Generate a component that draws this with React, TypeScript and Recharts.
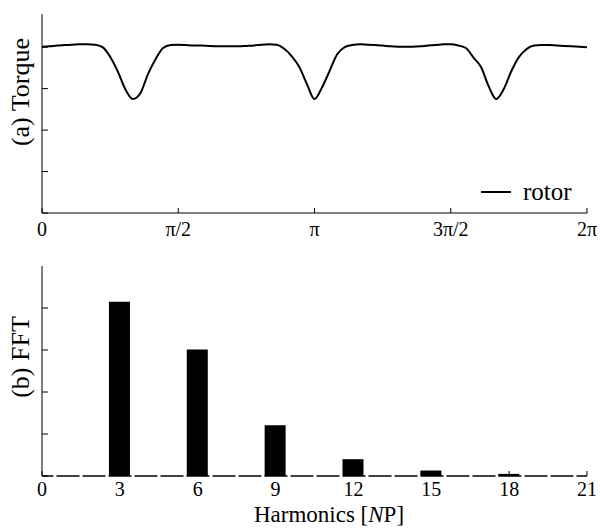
import React from 'react'
import { LineChart, Line, BarChart, Bar, XAxis, YAxis } from 'recharts'

// rotor angle in degrees, torque in arbitrary units
const angleDeg = [
  0, 5, 10, 15, 20, 25, 30, 35, 40, 45, 50, 55, 60, 65, 70, 75, 80, 85, 90,
  95, 100, 105, 110, 115, 120, 125, 130, 135, 140, 145, 150, 155, 160, 165, 170, 175, 180,
  185, 190, 195, 200, 205, 210, 215, 220, 225, 230, 235, 240, 245, 250, 255, 260, 265, 270,
  275, 280, 285, 290, 295, 300, 305, 310, 315, 320, 325, 330, 335, 340, 345, 350, 355, 360,
]
const rotorTorque = [
  4.01, 4.02, 4.04, 4.05, 4.06, 4.07, 4.07, 4.06, 4.0, 3.77, 3.42, 2.99, 2.75, 2.89, 3.35, 3.71, 3.98, 4.05, 4.06,
  4.05, 4.04, 4.04, 4.03, 4.02, 4.02, 4.02, 4.02, 4.03, 4.04, 4.06, 4.07, 4.06, 3.96, 3.78, 3.52, 3.11, 2.75,
  3.03, 3.43, 3.83, 4.0, 4.05, 4.07, 4.06, 4.05, 4.04, 4.02, 4.01, 4.01, 4.01, 4.02, 4.04, 4.05, 4.07, 4.07,
  4.04, 3.98, 3.75, 3.52, 3.06, 2.75, 2.99, 3.42, 3.76, 3.95, 4.04, 4.05, 4.05, 4.04, 4.03, 4.02, 4.01, 4.0,
]
const angleTicks = [0, 90, 180, 270, 360]
const angleTickLabels = ['0', 'π/2', 'π', '3π/2', '2π']

// FFT harmonics
const harmonics = [3, 6, 9, 12, 15, 18]
const fftAmplitude = [4.15, 3.01, 1.21, 0.4, 0.13, 0.05]
const harmonicTicks = [0, 3, 6, 9, 12, 15, 18, 21]

const levelTicks = [0, 1, 2, 3, 4]

const torqueData = angleDeg.map((a, i) => ({ a, rotor: rotorTorque[i] }))
const fftData = harmonics.map((h, i) => ({ h, v: fftAmplitude[i] }))

const FONT = 'Liberation Serif'

function makeXTick(dy: number, labels?: string[]) {
  return function XTick(props: any) {
    const { x, y, payload, index } = props
    const text = labels ? labels[index] : String(payload.value)
    return (
      <g>
        <line x1={x} x2={x} y1={y} y2={y - 5} stroke="#000" strokeWidth={1} />
        <text x={x} y={y + dy} textAnchor="middle" fontFamily={FONT} fontSize={20} fill="#000">
          {text}
        </text>
      </g>
    )
  }
}

function YTick(props: any) {
  const { x, y } = props
  return <line x1={x} x2={x + 6} y1={y} y2={y} stroke="#000" strokeWidth={1} />
}

function yLabel(text: string, cy: number) {
  return (
    <text
      x={29}
      y={cy}
      transform={`rotate(-90, 29, ${cy})`}
      textAnchor="middle"
      fontFamily={FONT}
      fontSize={26}
      fill="#000"
    >
      {text}
    </text>
  )
}

export default function App() {
  return (
    <div style={{ position: 'absolute', left: 0, top: 0, width: 600, height: 528, background: '#fff' }}>
      <LineChart width={600} height={250} data={torqueData} margin={{ top: 14, right: 13, left: 0, bottom: 0 }}>
        <XAxis
          dataKey="a"
          type="number"
          domain={[0, 360]}
          ticks={angleTicks}
          height={37}
          tickSize={0}
          tickMargin={0}
          tickLine={false}
          axisLine={{ stroke: '#000', strokeWidth: 1 }}
          tick={makeXTick(23, angleTickLabels)}
          interval={0}
        />
        <YAxis
          type="number"
          domain={[0, 4.8]}
          ticks={levelTicks}
          width={42}
          tickSize={0}
          tickMargin={0}
          tickLine={false}
          axisLine={{ stroke: '#000', strokeWidth: 1 }}
          tick={YTick}
          interval={0}
          label={{ content: () => yLabel('(a) Torque', 92) }}
        />
        <Line
          type="monotone"
          dataKey="rotor"
          stroke="#000"
          strokeWidth={2}
          dot={false}
          isAnimationActive={false}
        />
      </LineChart>
      <div
        style={{
          position: 'absolute',
          left: 481,
          top: 177,
          display: 'flex',
          alignItems: 'center',
          fontFamily: FONT,
          fontSize: 25,
          color: '#000',
          lineHeight: '30px',
        }}
      >
        <span style={{ display: 'inline-block', width: 30, borderTop: '2px solid #000', marginRight: 12 }} />
        rotor
      </div>
      <BarChart width={600} height={278} data={fftData} margin={{ top: 16, right: 13, left: 0, bottom: 0 }}>
        <XAxis
          dataKey="h"
          type="number"
          domain={[0, 21]}
          ticks={harmonicTicks}
          height={52}
          tickSize={0}
          tickMargin={0}
          tickLine={false}
          axisLine={{ stroke: '#000', strokeWidth: 1.5, strokeDasharray: '23 3', strokeDashoffset: 11.5 }}
          tick={makeXTick(20)}
          interval={0}
          label={{
            content: () => (
              <text x={329} y={272} textAnchor="middle" fontFamily={FONT} fontSize={23} fill="#000">
                Harmonics [<tspan fontStyle="italic">N</tspan>P]
              </text>
            ),
          }}
        />
        <YAxis
          type="number"
          domain={[0, 5]}
          ticks={levelTicks}
          width={42}
          tickSize={0}
          tickMargin={0}
          tickLine={false}
          axisLine={{ stroke: '#000', strokeWidth: 1 }}
          tick={YTick}
          interval={0}
          label={{ content: () => yLabel('(b) FFT', 107) }}
        />
        <Bar dataKey="v" fill="#000" barSize={21} isAnimationActive={false} />
      </BarChart>
    </div>
  )
}
